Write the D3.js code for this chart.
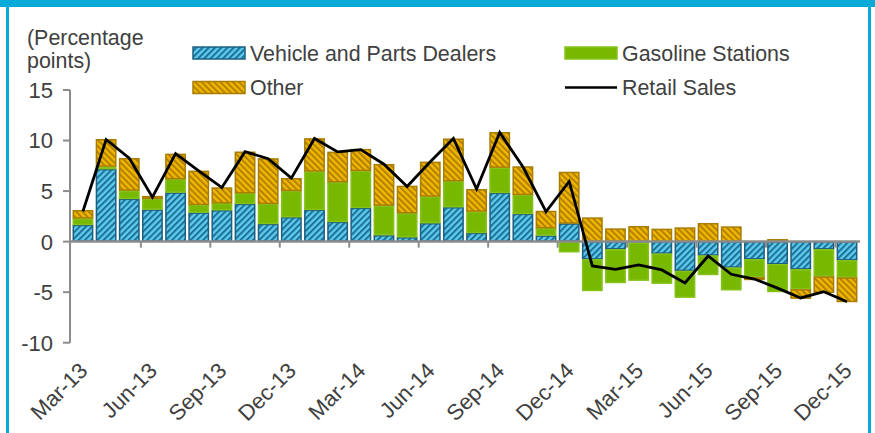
<!DOCTYPE html>
<html>
<head>
<meta charset="utf-8">
<script src="https://cdn.jsdelivr.net/npm/d3@7"></script>
<style>
  body { margin: 0; background: #fff; }
  text { font-family: "Liberation Sans", Arial, sans-serif; fill: #404040; }
</style>
</head>
<body>
<div id="chart"></div>
<script>
// months shown on the category axis
var months = ["Mar-13","Apr-13","May-13","Jun-13","Jul-13","Aug-13","Sep-13","Oct-13","Nov-13","Dec-13",
    "Jan-14","Feb-14","Mar-14","Apr-14","May-14","Jun-14","Jul-14","Aug-14","Sep-14","Oct-14","Nov-14","Dec-14",
    "Jan-15","Feb-15","Mar-15","Apr-15","May-15","Jun-15","Jul-15","Aug-15","Sep-15","Oct-15","Nov-15","Dec-15"];

// contributions in percentage points
var vehicle = [1.65, 7.17, 4.23, 3.17, 4.85, 2.87, 3.1, 3.73, 1.75, 2.41,
    3.14, 1.95, 3.34, 0.63, 0.43, 1.82, 3.4, 0.86, 4.82, 2.74, 0.6, 1.79,
    -1.75, -0.76, -0.1, -1.19, -2.9, -1.38, -2.57, -1.75, -2.24, -2.74, -0.76, -1.85];
var gasoline = [0.65, 0.26, 0.82, 1.06, 1.33, 0.76, 0.7, 1.06, 1.98, 2.6,
    3.8, 3.93, 3.66, 2.93, 2.38, 2.64, 2.58, 2.11, 2.5, 1.88, 0.73, -1.05,
    -3.13, -3.33, -3.76, -2.97, -2.64, -1.92, -2.24, -1.78, -2.74, -1.98, -2.7, -1.71];
var other = [0.8, 2.7, 3.2, 0.27, 2.5, 3.37, 1.55, 4.1, 4.5, 1.26,
    3.27, 3.0, 2.15, 4.1, 2.7, 3.43, 4.2, 2.21, 3.5, 2.81, 1.7, 5.1,
    2.38, 1.29, 1.52, 1.26, 1.39, 1.82, 1.49, -0.26, 0.23, -0.92, -1.59, -2.41];
var retail = [3.0, 10.1, 8.25, 4.4, 8.7, 7.0, 5.35, 8.9, 8.2, 6.28,
    10.2, 8.88, 9.1, 7.66, 5.45, 7.9, 10.2, 5.2, 10.8, 7.4, 2.97, 5.95,
    -2.4, -2.74, -2.31, -2.8, -4.09, -1.42, -3.23, -3.7, -4.6, -5.57, -4.95, -5.94];

var yTicks = [-10, -5, 0, 5, 10, 15];
var seriesNames = ["Vehicle and Parts Dealers", "Gasoline Stations", "Other", "Retail Sales"];

const width = 875, height = 433;
const plotLeft = 70, plotRight = 860, plotTop = 90, plotBottom = 342.7;
const fs = 21.4;

const svg = d3.select("#chart").append("svg")
    .attr("width", width)
    .attr("height", height);

// patterns for the hatched series
const defs = svg.append("defs");
function stripes(id, bg, fg, angle) {
    const p = defs.append("pattern")
        .attr("id", id)
        .attr("patternUnits", "userSpaceOnUse")
        .attr("width", 4.4).attr("height", 4.4)
        .attr("patternTransform", "rotate(" + angle + ")");
    p.append("rect").attr("width", 4.4).attr("height", 4.4).attr("fill", bg);
    p.append("rect").attr("width", 2).attr("height", 4.4).attr("fill", fg);
}
stripes("hatchBlue", "#5ccbec", "#1f7098", 45);
stripes("hatchGold", "#f2b600", "#b08200", -45);

// frame
svg.append("rect").attr("x", 0).attr("y", 0).attr("width", width).attr("height", 7).attr("fill", "#0aaad8");
svg.append("rect").attr("x", 6).attr("y", 0).attr("width", 3).attr("height", height).attr("fill", "#0aaad8");
svg.append("rect").attr("x", 868).attr("y", 0).attr("width", 3).attr("height", height).attr("fill", "#0aaad8");

const x = d3.scaleBand().domain(months).range([plotLeft, plotRight]).padding(0.12);
const y = d3.scaleLinear().domain([-10, 15]).range([plotBottom, plotTop]);

// stack positives up and negatives down
const series = [
    {name: seriesNames[0], values: vehicle, fill: "url(#hatchBlue)", stroke: "#1d5f7f"},
    {name: seriesNames[1], values: gasoline, fill: "#77b900", stroke: "#86c21a"},
    {name: seriesNames[2], values: other, fill: "url(#hatchGold)", stroke: "#a87d00"}
];
const segs = [];
months.forEach(function (m, i) {
    let pos = 0, neg = 0;
    series.forEach(function (s) {
        const v = s.values[i];
        let y0, y1;
        if (v >= 0) { y0 = pos; y1 = pos + v; pos = y1; }
        else { y0 = neg; y1 = neg + v; neg = y1; }
        segs.push({month: m, y0: y0, y1: y1, s: s});
    });
});

const bars = svg.append("g");
bars.selectAll("rect").data(segs).enter().append("rect")
    .attr("x", d => x(d.month) + 0.5)
    .attr("width", x.bandwidth() - 1)
    .attr("y", d => y(Math.max(d.y0, d.y1)) + 0.5)
    .attr("height", d => Math.max(0, Math.abs(y(d.y0) - y(d.y1)) - 1))
    .attr("fill", d => d.s.fill)
    .attr("stroke", d => d.s.stroke)
    .attr("stroke-width", 1.5);

// y axis
const axisColor = "#8c8c8c";
const yAxis = svg.append("g");
yAxis.append("line").attr("x1", plotLeft).attr("x2", plotLeft)
    .attr("y1", y(15)).attr("y2", y(-10))
    .attr("stroke", axisColor).attr("stroke-width", 2);
yTicks.forEach(function (t) {
    yAxis.append("line").attr("x1", plotLeft - 7).attr("x2", plotLeft)
        .attr("y1", y(t)).attr("y2", y(t))
        .attr("stroke", axisColor).attr("stroke-width", 2);
    yAxis.append("text").attr("x", 53).attr("y", y(t)).attr("dy", "0.36em")
        .attr("text-anchor", "end").style("font-size", "22px").text(t);
});

// category axis at zero
const step = x.step();
svg.append("line").attr("x1", plotLeft).attr("x2", plotRight)
    .attr("y1", y(0)).attr("y2", y(0))
    .attr("stroke", axisColor).attr("stroke-width", 2.5);
months.forEach(function (m, i) {
    if (i % 3 === 0 && i > 0) {
        const bx = x(m) - step * x.paddingInner() / 2;
        svg.append("line").attr("x1", bx).attr("x2", bx)
            .attr("y1", y(0)).attr("y2", y(0) + 6)
            .attr("stroke", axisColor).attr("stroke-width", 2);
    }
    if (i % 3 === 0) {
        const cx = x(m) + x.bandwidth() / 2;
        svg.append("text")
            .attr("transform", "translate(" + (cx + 6) + ",372) rotate(-45)")
            .attr("text-anchor", "end")
            .style("font-size", "22px")
            .text(m);
    }
});

// retail sales line
const line = d3.line()
    .x((d, i) => x(months[i]) + x.bandwidth() / 2)
    .y(d => y(d));
svg.append("path").datum(retail)
    .attr("d", line)
    .attr("fill", "none")
    .attr("stroke", "#000")
    .attr("stroke-width", 2.8)
    .attr("stroke-linejoin", "miter");

// axis title
svg.append("text").attr("x", 27).attr("y", 45).style("font-size", fs + "px").text("(Percentage");
svg.append("text").attr("x", 27).attr("y", 68).style("font-size", fs + "px").text("points)");

// legend
const legend = svg.append("g");
const legendItems = [
    {name: seriesNames[0], x: 193, y: 53, fill: "url(#hatchBlue)", stroke: "#1d5f7f"},
    {name: seriesNames[1], x: 565, y: 53, fill: "#77b900", stroke: "#86c21a"},
    {name: seriesNames[2], x: 193, y: 87.5, fill: "url(#hatchGold)", stroke: "#a87d00"},
    {name: seriesNames[3], x: 565, y: 87.5, line: true}
];
legendItems.forEach(function (d) {
    if (d.line) {
        legend.append("line").attr("x1", d.x).attr("x2", d.x + 52)
            .attr("y1", d.y).attr("y2", d.y)
            .attr("stroke", "#000").attr("stroke-width", 2.5);
    } else {
        legend.append("rect").attr("x", d.x).attr("y", d.y - 6)
            .attr("width", 52).attr("height", 12)
            .attr("fill", d.fill).attr("stroke", d.stroke).attr("stroke-width", 1.5);
    }
    legend.append("text").attr("x", d.x + 57).attr("y", d.y).attr("dy", "0.36em")
        .style("font-size", fs + "px").text(d.name);
});
</script>
</body>
</html>
